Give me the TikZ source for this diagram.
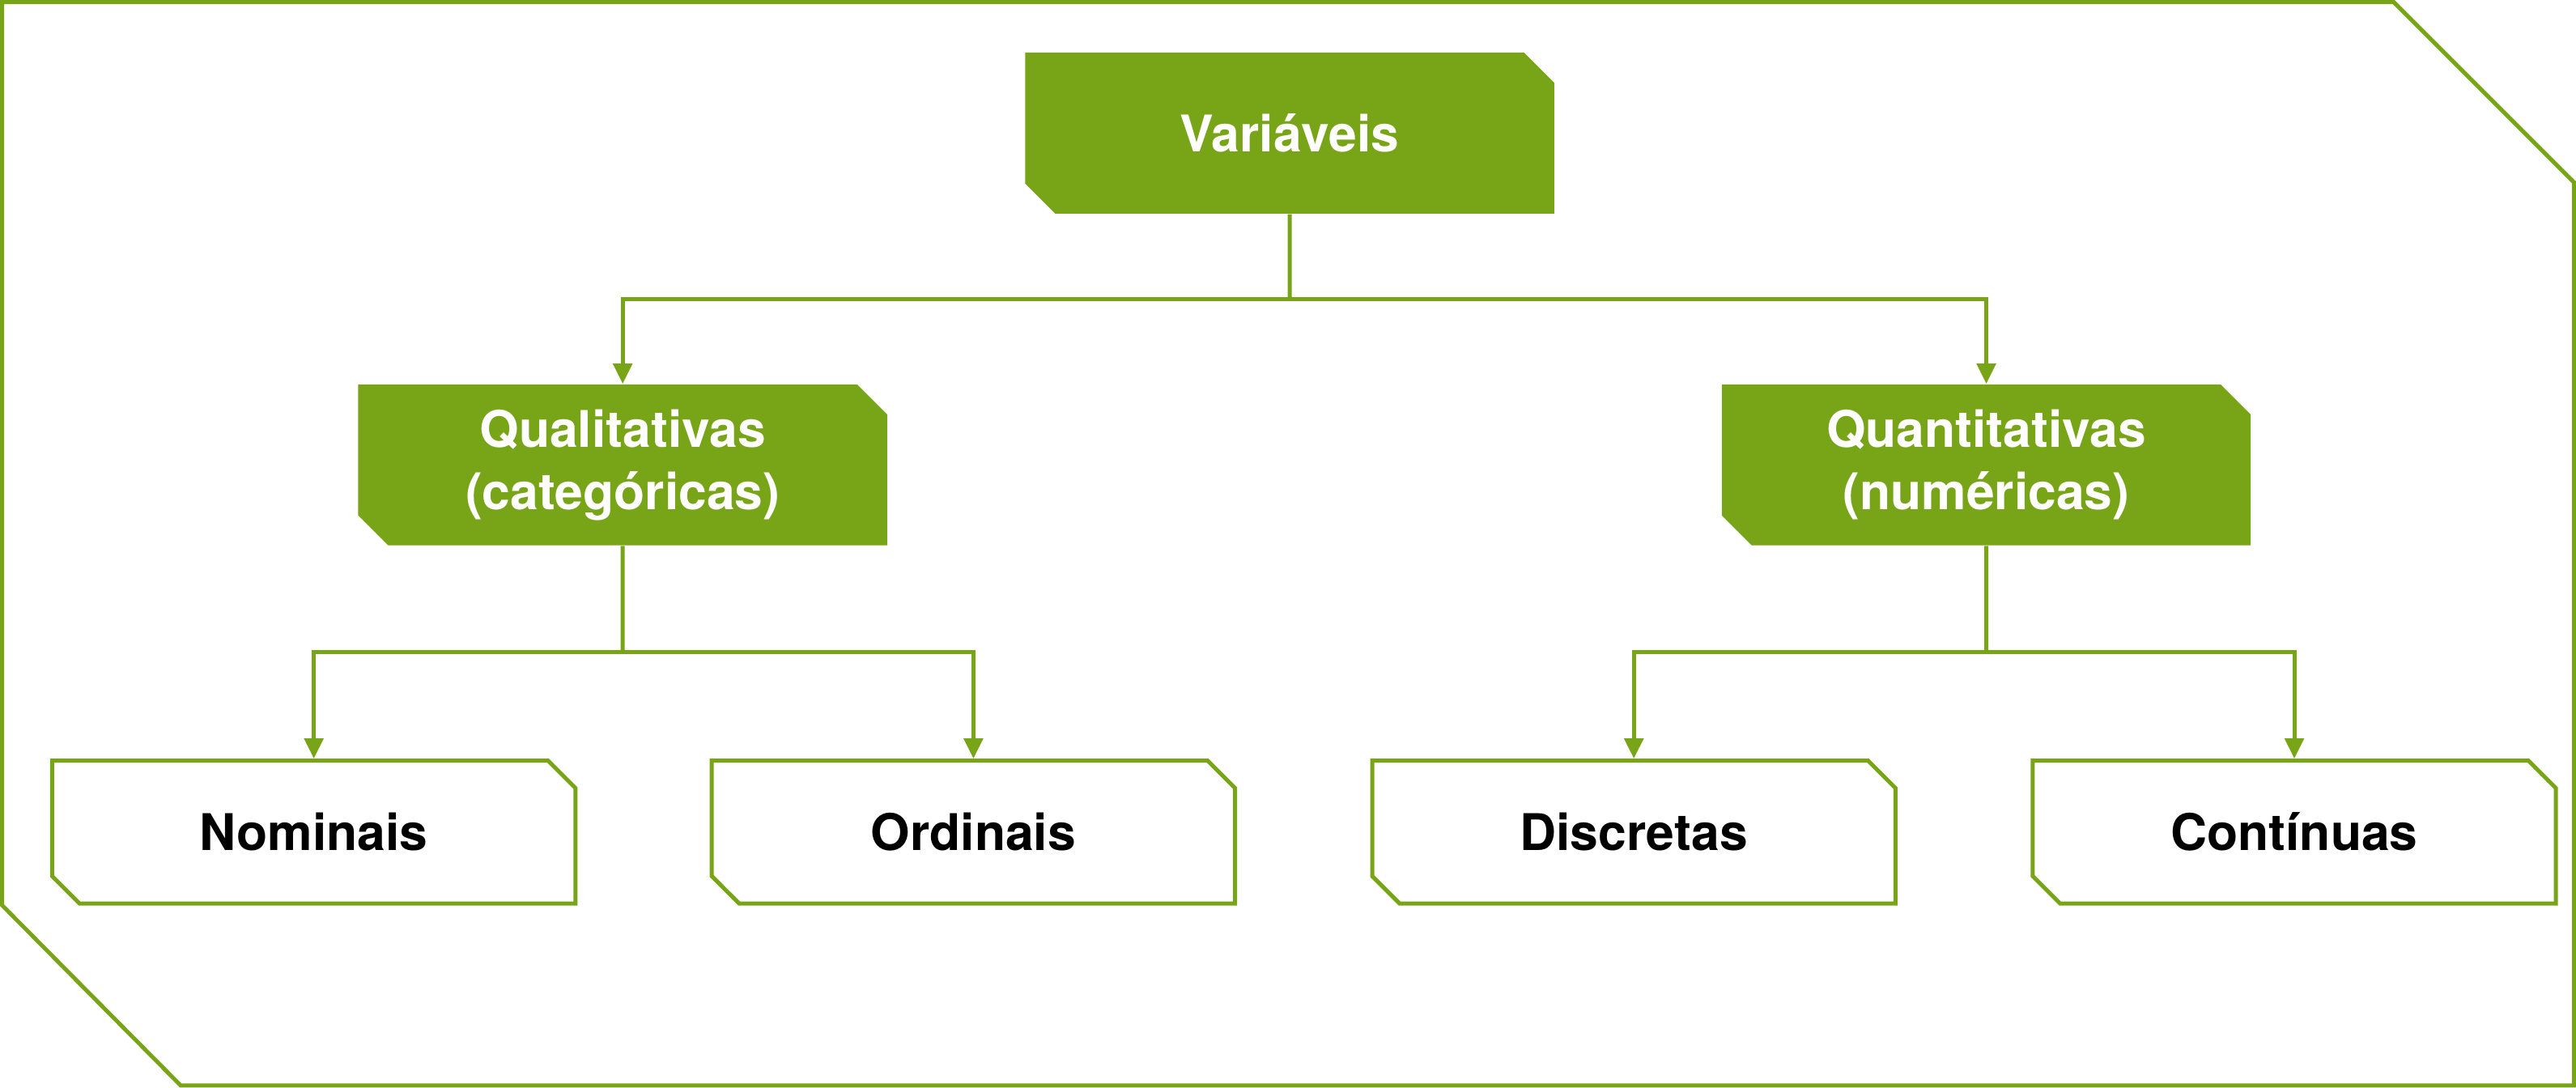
\documentclass[tikz,border=0pt]{standalone}
\usepackage{fontspec}
\setmainfont{TeX Gyre Heros}
\usetikzlibrary{arrows.meta, shapes.misc, positioning}
\definecolor{verde}{RGB}{120,164,24}

\begin{document}
\begin{tikzpicture}[
    base/.style={chamfered rectangle, chamfered rectangle corners={north east, south west},
        inner sep=0pt, font=\bfseries\fontsize{17.5}{21.5}\selectfont, align=center},
    topo/.style={base, fill=verde, text=white, minimum width=6.44cm, minimum height=1.96cm,
        chamfered rectangle xsep=0.183cm, chamfered rectangle ysep=0.183cm},
    folha/.style={base, draw=verde, line width=1.4pt, fill=white, text=black,
        minimum width=6.37cm, minimum height=1.74cm,
        chamfered rectangle xsep=0.167cm, chamfered rectangle ysep=0.167cm},
    seta/.style={draw=verde, line width=1.4pt, -{Triangle[length=7pt,width=6.5pt]}},
    liga/.style={draw=verde, line width=1.4pt}
]
    \useasboundingbox (0,0) rectangle (31.36,13.24);
    \draw[verde, line width=1.4pt] (0.025,13.215) -- (29.14,13.215) -- (31.335,11.02)
        -- (31.335,0.025) -- (2.2,0.025) -- (0.025,2.22) -- cycle;

    \node[topo] (var) at (15.7,11.62) {Variáveis};
    \node[topo] (qual) at (7.58,7.58) {Qualitativas\\(categóricas)};
    \node[topo] (quant) at (24.18,7.58) {Quantitativas\\(numéricas)};

    \node[folha] (nom) at (3.82,3.11) {Nominais};
    \node[folha] (ord) at (11.85,3.11) {Ordinais};
    \node[folha] (disc) at (19.89,3.11) {Discretas};
    \node[folha] (cont) at (27.93,3.11) {Contínuas};

    \coordinate (j0) at (15.7,9.6);
    \coordinate (j1) at (7.58,5.3);
    \coordinate (j2) at (24.18,5.3);

    \draw[liga] (var) -- (j0);
    \draw[seta] (j0) -| (qual);
    \draw[seta] (j0) -| (quant);
    \draw[liga] (qual) -- (j1);
    \draw[liga] (quant) -- (j2);
    \foreach \a/\b in {j1/nom, j1/ord, j2/disc, j2/cont} {
        \draw[seta] (\a) -| (\b);
    }
\end{tikzpicture}
\end{document}
